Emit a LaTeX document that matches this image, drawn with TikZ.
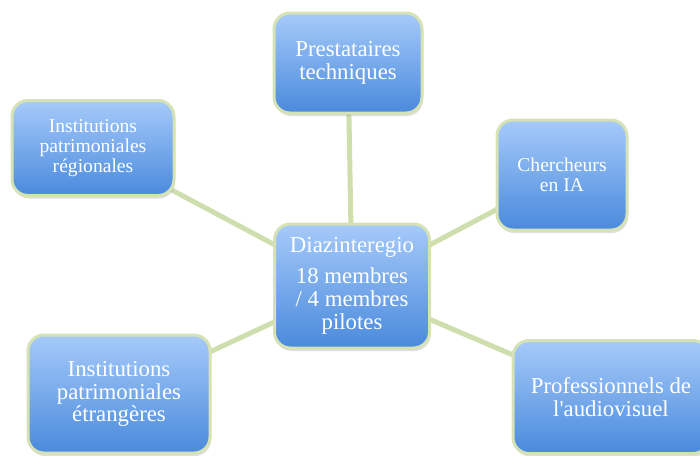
\documentclass[tikz,border=0pt]{standalone}
\usepackage{fontspec}
\setmainfont{Liberation Serif}[Ligatures=TeXOff]
\usetikzlibrary{shadows,backgrounds}

\definecolor{boxtop}{RGB}{166,202,250}
\definecolor{boxbottom}{RGB}{74,138,220}
\definecolor{boxedge}{RGB}{212,226,182}
\definecolor{linkgreen}{RGB}{206,222,172}

\tikzset{
  membre/.style={draw=boxedge, line width=1.5pt, rounded corners=8pt,
    top color=boxtop, bottom color=boxbottom, text=white, align=center,
    drop shadow={shadow xshift=0.5pt, shadow yshift=-1.5pt, opacity=0.25}},
  grand/.style={font=\fontsize{11.4}{11.4}\selectfont},
  petit/.style={font=\fontsize{9.8}{9.9}\selectfont},
  lien/.style={draw=linkgreen, line width=2.5pt}
}

\begin{document}
\begin{tikzpicture}[x=0.5pt, y=-0.5pt]
  \useasboundingbox (0,0) rectangle (700,455);

  % boxes
  \node[membre, grand, minimum width=77.5pt, minimum height=62pt] (centre) at (352,286)
    {Diazinteregio\\[4pt] 18 membres\\/ 4 membres\\pilotes};
  \node[membre, grand, minimum width=74pt, minimum height=50pt] (presta) at (348,63)
    {Prestataires\\techniques};
  \node[membre, petit, minimum width=81pt, minimum height=47.5pt] (regio) at (93,148)
    {Institutions\\patrimoniales\\régionales};
  \node[membre, petit, minimum width=65pt, minimum height=55pt] (cherch) at (562,175)
    {Chercheurs\\en IA};
  \node[membre, grand, minimum width=91pt, minimum height=59pt] (etrang) at (119,394)
    {Institutions\\patrimoniales\\étrangères};
  \node[membre, grand, minimum width=98pt, minimum height=56.5pt] (audio) at (611,397)
    {Professionnels de\\l'audiovisuel};

  % links
  \begin{scope}[on background layer]
    \draw[lien] (centre.center) -- (presta.center);
    \draw[lien] (centre.center) -- (regio.center);
    \draw[lien] (centre.center) -- (cherch.center);
    \draw[lien] (centre.center) -- (etrang.center);
    \draw[lien] (centre.center) -- (audio.center);
  \end{scope}
\end{tikzpicture}
\end{document}
